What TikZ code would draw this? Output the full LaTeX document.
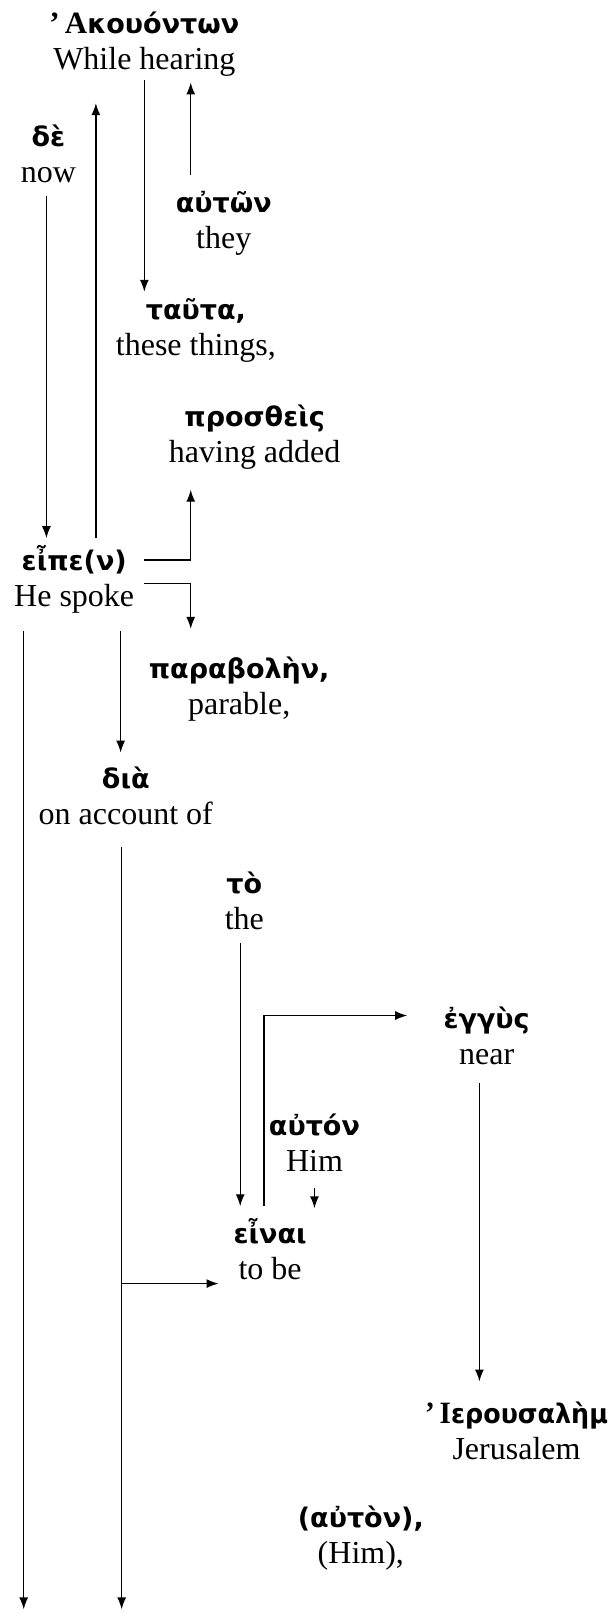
\documentclass[tikz,border=0pt]{standalone}
\usepackage{graphicx}
\usepackage{fontspec}
\setmainfont{Liberation Serif}
\newfontfamily\grfont{DejaVu Sans}
\usetikzlibrary{arrows.meta,calc}
\tikzset{
  word/.style={align=center,inner sep=0pt,font=\fontsize{32}{36}\selectfont},
  arr/.style={line width=1.4pt,-{Latex[length=12pt,width=9pt]}}
}
\newcommand{\gk}[1]{{\grfont\bfseries\fontsize{27}{36}\selectfont #1}}
\newcommand{\gcap}[1]{{\bfseries\fontsize{31}{36}\selectfont #1}}
\begin{document}
\begin{tikzpicture}[x=1.031pt,y=-1.031pt]
\useasboundingbox (0,0) rectangle (591.7,1565.5);
\node[word] (n1) at (140,43) {\gcap{’\,Α}\gk{κουόντων}\\While hearing};
\node[word] (n2) at (47,149) {\gk{δὲ}\\now};
\node[word] (n3) at (217,217) {\gk{αὐτῶν}\\they};
\node[word] (n4) at (190,321) {\gk{ταῦτα,}\\these things,};
\node[word] (n5) at (247,424) {\gk{προσθεὶς}\\having added};
\node[word] (n6) at (72,562) {\gk{εἶπε(ν)}\\He spoke};
\node[word] (n7) at (232,668) {\gk{παραβολὴν,}\\parable,};
\node[word] (n8) at (122,772) {\gk{διὰ}\\on account of};
\node[word] (n9) at (237,874) {\gk{τὸ}\\the};
\node[word] (n10) at (472,1005) {\gk{ἐγγὺς}\\near};
\node[word] (n11) at (305,1108) {\gk{αὐτόν}\\Him};
\node[word] (n12) at (262,1212) {\gk{εἶναι}\\to be};
\node[word] (n13) at (501,1388) {\scalebox{0.94}[1]{\gcap{’\,Ι}\gk{ερουσαλὴμ}}\\Jerusalem};
\node[word] (n14) at (350,1492) {\gk{(αὐτὸν),}\\(Him),};
\coordinate (b1) at (23,1561);
\coordinate (b2) at (118,1561);
% arrows
\draw[arr] ($(n1)+(0,35)$) -- ($(n4)+(-50,-38)$);
\draw[arr] ($(n3)+(-32,-47)$) -- ($(n1)+(45,37)$);
\draw[arr] ($(n2)+(-2,41)$) -- ($(n6)+(-27,-40)$);
\draw[arr] ($(n6)+(21,-40)$) -- ($(n1)+(-47,57)$);
\draw[arr] ($(n6)+(68,-19)$) -| ($(n5)+(-62,51)$);
\draw[arr] ($(n6)+(68,4)$) -| ($(n7)+(-47,-58)$);
\draw[arr] ($(n6)+(45,50)$) -- ($(n8)+(-5,-42)$);
\draw[arr] ($(n6)+(-49,50)$) -- (b1);
\draw[arr] ($(n8)+(-4,50)$) -- (b2);
\coordinate (j0) at ($(n8)+(-4,473)$);
\draw[arr] (j0) -- ($(n12)+(-50,33)$);
\draw[arr] ($(n9)+(-4,41)$) -- ($(n12)+(-29,-42)$);
\draw[arr] ($(n12)+(-6,-42)$) |- ($(n10)+(-77,-20)$);
\draw[arr] ($(n11)+(0,44)$) -- ($(n12)+(43,-40)$);
\draw[arr] ($(n10)+(-7,45)$) -- ($(n13)+(-36,-48)$);
\end{tikzpicture}
\end{document}
